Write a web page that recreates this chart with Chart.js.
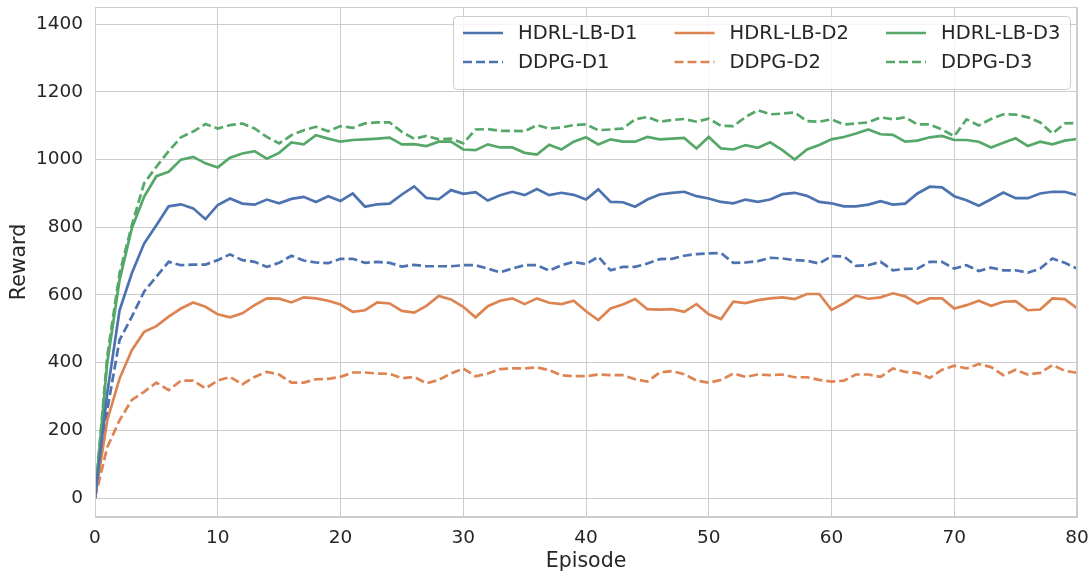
<!DOCTYPE html>
<html>
<head>
<meta charset="utf-8">
<title>Reward per episode</title>
<script src="https://cdn.jsdelivr.net/npm/chart.js@4.4.0/dist/chart.umd.min.js"></script>
<style>
    html, body { margin: 0; padding: 0; background: #ffffff; }
    #wrap { width: 1092px; height: 573px; }
</style>
</head>
<body>
<div id="wrap"><canvas id="reward-chart" width="1092" height="573"></canvas></div>
<script>
// Episodes on the x axis
const episodes = [
    0, 1, 2, 3, 4, 5, 6, 7, 8, 9, 10, 11, 12, 13, 14, 15, 16, 17, 18, 19, 20,
    21, 22, 23, 24, 25, 26, 27, 28, 29, 30, 31, 32, 33, 34, 35, 36, 37, 38, 39, 40,
    41, 42, 43, 44, 45, 46, 47, 48, 49, 50, 51, 52, 53, 54, 55, 56, 57, 58, 59, 60,
    61, 62, 63, 64, 65, 66, 67, 68, 69, 70, 71, 72, 73, 74, 75, 76, 77, 78, 79, 80
];

// Reward series
const hdrlD1 = [
    0, 310, 555, 664, 752, 806, 862, 868, 856, 824, 866,
    885, 870, 867, 882, 871, 884, 890, 875, 892, 878,
    900, 861, 868, 870, 897, 921, 887, 883, 910, 899,
    904, 879, 895, 905, 895, 913, 895, 902, 896, 882,
    912, 875, 874, 861, 882, 897, 902, 905, 892, 885,
    875, 871, 882, 875, 882, 898, 902, 893, 875, 871,
    862, 862, 867, 877, 867, 870, 900, 920, 918, 892,
    880, 864, 883, 903, 886, 886, 900, 905, 905, 895
];
const hdrlD2 = [
    0, 230, 353, 437, 491, 508, 536, 560, 578, 565, 543,
    534, 546, 570, 590, 589, 578, 593, 590, 583, 572,
    550, 555, 578, 575, 553, 548, 568, 597, 587, 565,
    534, 567, 583, 590, 573, 590, 577, 573, 583, 552,
    526, 560, 572, 588, 558, 557, 558, 550, 573, 543,
    529, 580, 576, 585, 590, 593, 588, 603, 603, 556,
    575, 598, 589, 593, 605, 596, 575, 590, 590, 560,
    570, 583, 568, 580, 582, 555, 557, 590, 588, 561
];
const hdrlD3 = [
    0, 400, 644, 797, 890, 951, 964, 1000, 1008, 989, 977,
    1006, 1018, 1025, 1003, 1020, 1051, 1045, 1072, 1062, 1053,
    1058, 1060, 1062, 1065, 1045, 1046, 1040, 1053, 1053, 1030,
    1028, 1045, 1036, 1036, 1020, 1015, 1044, 1030, 1053, 1066,
    1045, 1060, 1053, 1053, 1067, 1060, 1062, 1064, 1033, 1067,
    1033, 1030, 1043, 1035, 1051, 1028, 1000, 1030, 1043, 1060,
    1067, 1077, 1089, 1075, 1073, 1053, 1056, 1066, 1070, 1058,
    1058, 1053, 1036, 1050, 1063, 1040, 1053, 1045, 1056, 1061
];
const ddpgD1 = [
    0, 260, 467, 536, 610, 654, 698, 688, 690, 690, 703,
    720, 703, 698, 683, 695, 716, 702, 696, 694, 707,
    707, 695, 698, 695, 684, 689, 685, 685, 685, 688,
    688, 678, 667, 678, 688, 688, 672, 688, 698, 691,
    713, 673, 683, 683, 693, 706, 707, 716, 721, 723,
    724, 695, 696, 700, 710, 708, 703, 701, 693, 715,
    714, 686, 688, 698, 673, 677, 678, 698, 698, 678,
    688, 671, 681, 673, 673, 666, 678, 708, 695, 678
];
const ddpgD2 = [
    0, 150, 230, 290, 314, 341, 319, 347, 347, 324, 347,
    358, 336, 358, 373, 365, 341, 341, 351, 352, 358,
    371, 371, 368, 367, 354, 358, 339, 349, 368, 383,
    360, 368, 381, 383, 383, 386, 378, 363, 360, 360,
    365, 363, 363, 351, 344, 371, 375, 366, 347, 341,
    349, 368, 358, 365, 363, 365, 357, 357, 349, 344,
    347, 365, 365, 358, 383, 373, 370, 355, 379, 391,
    383, 396, 387, 363, 379, 365, 370, 393, 376, 370
];
const ddpgD3 = [
    0, 420, 664, 806, 930, 979, 1025, 1066, 1083, 1105, 1092,
    1102, 1107, 1092, 1067, 1048, 1072, 1087, 1097, 1084, 1099,
    1094, 1107, 1110, 1110, 1082, 1062, 1070, 1060, 1062, 1048,
    1089, 1090, 1085, 1085, 1084, 1102, 1092, 1095, 1102, 1104,
    1087, 1089, 1092, 1119, 1126, 1112, 1117, 1120, 1112, 1121,
    1100, 1099, 1126, 1146, 1134, 1136, 1139, 1114, 1112, 1119,
    1104, 1107, 1110, 1125, 1119, 1125, 1104, 1104, 1089, 1069,
    1119, 1101, 1120, 1134, 1133, 1125, 1110, 1077, 1107, 1108
];

// Tick labels
const xTicks = [0, 10, 20, 30, 40, 50, 60, 70, 80];
const yTicks = [0, 200, 400, 600, 800, 1000, 1200, 1400];

const BLUE = '#4c72b0';
const ORANGE = '#dd8452';
const GREEN = '#55a868';
const GRID = '#cccccc';
const TEXT = '#262626';
const FONT = "'DejaVu Sans', sans-serif";

function toPoints(values) {
    return values.map((v, i) => ({ x: episodes[i], y: v }));
}

function makeSeries(label, values, color, dashed) {
    return {
        label: label,
        data: toPoints(values),
        borderColor: color,
        backgroundColor: color,
        borderWidth: 2.7,
        borderDash: dashed ? [9, 4] : [],
        pointRadius: 0,
        tension: 0,
        fill: false
    };
}

// Legend in the top right corner, three columns, two rows
const cornerLegend = {
    id: 'cornerLegend',
    afterDraw(chart) {
        const ctx = chart.ctx;
        const area = chart.chartArea;
        const boxW = 617, boxH = 73;
        const left = area.right - 7 - boxW;
        const top = area.top + 9;
        ctx.save();
        ctx.beginPath();
        ctx.roundRect(left + 0.5, top + 0.5, boxW, boxH, 4);
        ctx.fillStyle = 'rgba(255,255,255,0.8)';
        ctx.fill();
        ctx.lineWidth = 1;
        ctx.strokeStyle = GRID;
        ctx.stroke();

        ctx.font = '19.5px ' + FONT;
        ctx.fillStyle = TEXT;
        ctx.textBaseline = 'middle';
        chart.data.datasets.forEach((ds, i) => {
            const col = i % 3;
            const row = Math.floor(i / 3);
            const x = left + 10 + col * 211.5;
            const y = top + 17 + row * 29;
            ctx.beginPath();
            ctx.setLineDash(ds.borderDash);
            ctx.lineWidth = ds.borderWidth;
            ctx.strokeStyle = ds.borderColor;
            ctx.moveTo(x, y);
            ctx.lineTo(x + 40, y);
            ctx.stroke();
            ctx.setLineDash([]);
            ctx.fillText(ds.label, x + 55, y + 1);
        });
        ctx.restore();
    }
};

// Light frame around the plot area
const frame = {
    id: 'frame',
    afterDraw(chart) {
        const a = chart.chartArea;
        const ctx = chart.ctx;
        ctx.save();
        ctx.strokeStyle = GRID;
        ctx.lineWidth = 1;
        ctx.strokeRect(a.left + 0.5, a.top + 0.5, a.right - a.left - 1, a.bottom - a.top - 1);
        ctx.restore();
    }
};

const ctx = document.getElementById('reward-chart').getContext('2d');
new Chart(ctx, {
    type: 'line',
    data: {
        datasets: [
            makeSeries('HDRL-LB-D1', hdrlD1, BLUE, false),
            makeSeries('HDRL-LB-D2', hdrlD2, ORANGE, false),
            makeSeries('HDRL-LB-D3', hdrlD3, GREEN, false),
            makeSeries('DDPG-D1', ddpgD1, BLUE, true),
            makeSeries('DDPG-D2', ddpgD2, ORANGE, true),
            makeSeries('DDPG-D3', ddpgD3, GREEN, true)
        ]
    },
    options: {
        responsive: false,
        animation: false,
        devicePixelRatio: 1,
        layout: { padding: { top: 7, right: 15, left: 0, bottom: 0 } },
        plugins: {
            legend: { display: false },
            tooltip: { enabled: false }
        },
        scales: {
            x: {
                type: 'linear',
                min: 0,
                max: 80,
                afterBuildTicks: (scale) => { scale.ticks = xTicks.map(v => ({ value: v })); },
                afterFit: (scale) => {
                    scale.height = 56;
                    scale.paddingLeft = 0;
                    scale.paddingRight = 0;
                },
                grid: { color: GRID, lineWidth: 1, drawTicks: false },
                border: { color: GRID },
                ticks: { color: TEXT, font: { family: FONT, size: 18.5 }, padding: 10, maxRotation: 0 },
                title: {
                    display: true, text: 'Episode', color: TEXT,
                    font: { family: FONT, size: 20.5, lineHeight: 1.15 }, padding: { top: 0, bottom: 0 }
                }
            },
            y: {
                min: -56,
                max: 1451,
                afterBuildTicks: (scale) => { scale.ticks = yTicks.map(v => ({ value: v })); },
                afterFit: (scale) => {
                    scale.width = 95;
                    scale.paddingTop = 0;
                    scale.paddingBottom = 0;
                },
                grid: { color: GRID, lineWidth: 1, drawTicks: false },
                border: { color: GRID },
                ticks: {
                    color: TEXT, font: { family: FONT, size: 18.5 }, padding: 12,
                    callback: (value) => String(value)
                },
                title: {
                    display: true, text: 'Reward', color: TEXT,
                    font: { family: FONT, size: 20.5, lineHeight: 1.2 }, padding: { top: 7, bottom: 0 }
                }
            }
        }
    },
    plugins: [frame, cornerLegend]
});
</script>
</body>
</html>
